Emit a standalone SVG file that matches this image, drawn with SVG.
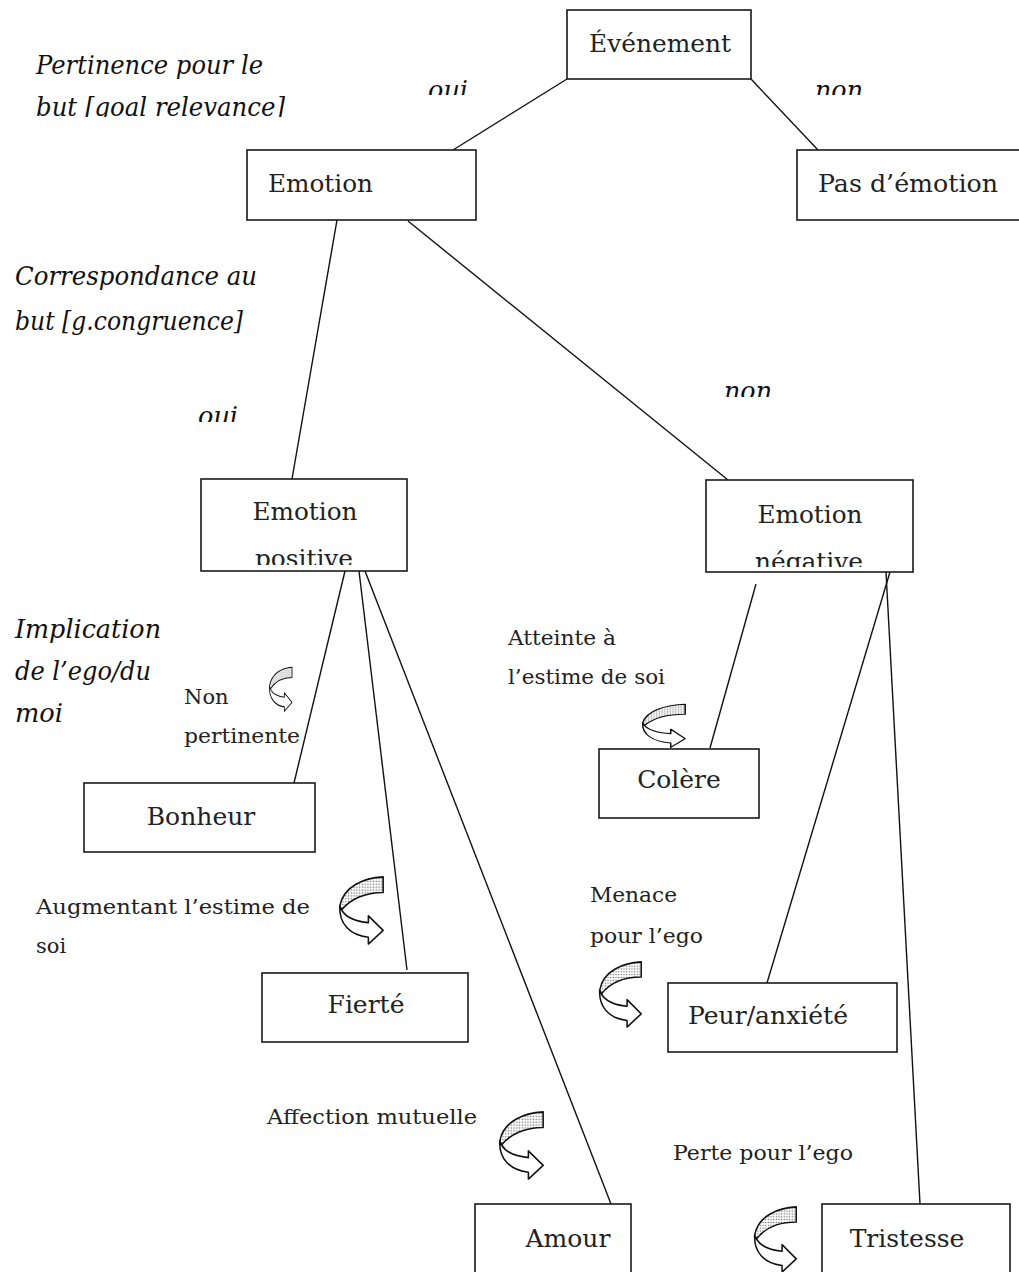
<svg xmlns="http://www.w3.org/2000/svg" xmlns:xlink="http://www.w3.org/1999/xlink" width="1019" height="1272" viewBox="0 0 1019 1272">
  <style>
    .box { fill: #fff; stroke: #1a1a1a; stroke-width: 1.6; }
    .node-text { font-family: "DejaVu Serif", "Liberation Serif", serif; font-size: 25px; fill: #222; }
    .crit { font-family: "DejaVu Serif", "Liberation Serif", serif; font-style: italic; font-size: 26px; fill: #111; }
    .small { font-family: "DejaVu Serif", "Liberation Serif", serif; font-size: 21px; fill: #222; }
    .edge { stroke: #111; stroke-width: 1.4; fill: none; }
    .ribbon-back { fill: url(#dots); stroke: #111; stroke-width: 1.7; stroke-linejoin: round; }
    .ribbon-front { fill: #fff; stroke: #111; stroke-width: 1.7; stroke-linejoin: round; }
  </style>
  <defs>
    <pattern id="dots" width="3" height="3" patternUnits="userSpaceOnUse">
      <rect width="3" height="3" fill="#fff"/>
      <circle cx="1.5" cy="1.5" r="0.8" fill="#666"/>
    </pattern>
    <!-- U-turn ribbon arrow: dotted back band on top, white band ending in a head -->
    <symbol id="uturn" viewBox="-2 -2 52 72" preserveAspectRatio="none">
      <path class="ribbon-back" d="M48,0 C28,1 5,9 1,30 L3,34 C12,23 28,16 48,16 Z"/>
      <path class="ribbon-front" d="M1,30 C0,48 12,60 32,62 L32,69 L48,55 L32,40 L32,47 C20,46 8,42 3,34 Z"/>
    </symbol>
    <clipPath id="clipOuiTop" clipPathUnits="userSpaceOnUse"><rect x="400" y="70" width="100" height="25"/></clipPath>
    <clipPath id="clipNonTop" clipPathUnits="userSpaceOnUse"><rect x="800" y="70" width="100" height="25"/></clipPath>
    <clipPath id="clipGoal" clipPathUnits="userSpaceOnUse"><rect x="0" y="80" width="320" height="37"/></clipPath>
    <clipPath id="clipOuiMid" clipPathUnits="userSpaceOnUse"><rect x="180" y="390" width="80" height="32"/></clipPath>
    <clipPath id="clipNonMid" clipPathUnits="userSpaceOnUse"><rect x="700" y="370" width="100" height="27"/></clipPath>
    <clipPath id="clipPos" clipPathUnits="userSpaceOnUse"><rect x="201" y="479" width="206" height="86"/></clipPath>
    <clipPath id="clipNeg" clipPathUnits="userSpaceOnUse"><rect x="706" y="480" width="207" height="87"/></clipPath>
  </defs>

  <rect width="1019" height="1272" fill="#fff"/>

  <!-- connectors -->
  <g id="connectors">
    <line class="edge" x1="567" y1="79" x2="453" y2="150"/>
    <line class="edge" x1="751" y1="79" x2="818" y2="150"/>
    <line class="edge" x1="337" y1="220" x2="292" y2="479"/>
    <line class="edge" x1="408" y1="221" x2="728" y2="480"/>
    <line class="edge" x1="345" y1="571" x2="294" y2="783"/>
    <line class="edge" x1="359" y1="571" x2="407" y2="970"/>
    <line class="edge" x1="365" y1="571" x2="611" y2="1204"/>
    <line class="edge" x1="756" y1="584" x2="710" y2="748"/>
    <line class="edge" x1="890" y1="572" x2="767" y2="983"/>
    <line class="edge" x1="886" y1="572" x2="920" y2="1204"/>
  </g>

  <!-- appraisal criteria -->
  <g id="criteria">
    <text class="crit" x="36" y="74" textLength="227" lengthAdjust="spacingAndGlyphs">Pertinence pour le</text>
    <text class="crit" x="36" y="116" textLength="249" lengthAdjust="spacingAndGlyphs" clip-path="url(#clipGoal)">but [goal relevance]</text>
    <text class="crit" x="15" y="285" textLength="242" lengthAdjust="spacingAndGlyphs">Correspondance au</text>
    <text class="crit" x="15" y="330" textLength="228" lengthAdjust="spacingAndGlyphs">but [g.congruence]</text>
    <text class="crit" x="15" y="638" textLength="146" lengthAdjust="spacingAndGlyphs">Implication</text>
    <text class="crit" x="15" y="680" textLength="136" lengthAdjust="spacingAndGlyphs">de l’ego/du</text>
    <text class="crit" x="15" y="722" textLength="48" lengthAdjust="spacingAndGlyphs">moi</text>
  </g>

  <!-- branch answers -->
  <g id="answers">
    <text class="crit" x="428" y="99" textLength="40" lengthAdjust="spacingAndGlyphs" clip-path="url(#clipOuiTop)">oui</text>
    <text class="crit" x="815" y="99" textLength="48" lengthAdjust="spacingAndGlyphs" clip-path="url(#clipNonTop)">non</text>
    <text class="crit" x="198" y="425" textLength="40" lengthAdjust="spacingAndGlyphs" clip-path="url(#clipOuiMid)">oui</text>
    <text class="crit" x="724" y="400" textLength="48" lengthAdjust="spacingAndGlyphs" clip-path="url(#clipNonMid)">non</text>
  </g>

  <!-- nodes -->
  <g id="evenement">
    <rect class="box" x="567" y="10" width="184" height="69"/>
    <text class="node-text" x="660" y="52" text-anchor="middle" textLength="142" lengthAdjust="spacingAndGlyphs">Événement</text>
  </g>
  <g id="emotion">
    <rect class="box" x="247" y="150" width="229" height="70"/>
    <text class="node-text" x="268" y="192" textLength="105" lengthAdjust="spacingAndGlyphs">Emotion</text>
  </g>
  <g id="pas-emotion">
    <rect class="box" x="797" y="150" width="230" height="70"/>
    <text class="node-text" x="818" y="192" textLength="180" lengthAdjust="spacingAndGlyphs">Pas d’émotion</text>
  </g>
  <g id="emotion-positive">
    <rect class="box" x="201" y="479" width="206" height="92"/>
    <g clip-path="url(#clipPos)">
      <text class="node-text" x="305" y="520" text-anchor="middle" textLength="105" lengthAdjust="spacingAndGlyphs">Emotion</text>
      <text class="node-text" x="304" y="567" text-anchor="middle" textLength="98" lengthAdjust="spacingAndGlyphs">positive</text>
    </g>
  </g>
  <g id="emotion-negative">
    <rect class="box" x="706" y="480" width="207" height="92"/>
    <g clip-path="url(#clipNeg)">
      <text class="node-text" x="810" y="523" text-anchor="middle" textLength="105" lengthAdjust="spacingAndGlyphs">Emotion</text>
      <text class="node-text" x="809" y="570" text-anchor="middle" textLength="108" lengthAdjust="spacingAndGlyphs">négative</text>
    </g>
  </g>
  <g id="bonheur">
    <rect class="box" x="84" y="783" width="231" height="69"/>
    <text class="node-text" x="201" y="825" text-anchor="middle">Bonheur</text>
  </g>
  <g id="colere">
    <rect class="box" x="599" y="749" width="160" height="69"/>
    <text class="node-text" x="679" y="788" text-anchor="middle">Colère</text>
  </g>
  <g id="fierte">
    <rect class="box" x="262" y="973" width="206" height="69"/>
    <text class="node-text" x="366" y="1013" text-anchor="middle">Fierté</text>
  </g>
  <g id="peur">
    <rect class="box" x="668" y="983" width="229" height="69"/>
    <text class="node-text" x="688" y="1024" textLength="160" lengthAdjust="spacingAndGlyphs">Peur/anxiété</text>
  </g>
  <g id="amour">
    <rect class="box" x="475" y="1204" width="156" height="80"/>
    <text class="node-text" x="568" y="1247" text-anchor="middle">Amour</text>
  </g>
  <g id="tristesse">
    <rect class="box" x="822" y="1204" width="188" height="80"/>
    <text class="node-text" x="907" y="1247" text-anchor="middle">Tristesse</text>
  </g>

  <!-- appraisal outcomes with their turn arrows -->
  <g id="label-non-pertinente">
    <text class="small" x="184" y="704">Non</text>
    <text class="small" x="184" y="743" textLength="116" lengthAdjust="spacingAndGlyphs">pertinente</text>
    <use xlink:href="#uturn" x="268" y="666" width="25" height="46"/>
  </g>
  <g id="label-atteinte">
    <text class="small" x="508" y="645" textLength="108" lengthAdjust="spacingAndGlyphs">Atteinte à</text>
    <text class="small" x="508" y="684" textLength="157" lengthAdjust="spacingAndGlyphs">l’estime de soi</text>
    <use xlink:href="#uturn" x="640" y="703" width="47" height="45"/>
  </g>
  <g id="label-augmentant">
    <text class="small" x="36" y="914" textLength="274" lengthAdjust="spacingAndGlyphs">Augmentant l’estime de</text>
    <text class="small" x="36" y="953">soi</text>
    <use xlink:href="#uturn" x="337" y="875" width="48" height="70"/>
  </g>
  <g id="label-menace">
    <text class="small" x="590" y="902" textLength="87" lengthAdjust="spacingAndGlyphs">Menace</text>
    <text class="small" x="590" y="943" textLength="113" lengthAdjust="spacingAndGlyphs">pour l’ego</text>
    <use xlink:href="#uturn" x="597" y="960" width="46" height="68"/>
  </g>
  <g id="label-affection">
    <text class="small" x="267" y="1124" textLength="210" lengthAdjust="spacingAndGlyphs">Affection mutuelle</text>
    <use xlink:href="#uturn" x="497" y="1110" width="48" height="70"/>
  </g>
  <g id="label-perte">
    <text class="small" x="673" y="1160" textLength="180" lengthAdjust="spacingAndGlyphs">Perte pour l’ego</text>
    <use xlink:href="#uturn" x="752" y="1205" width="46" height="68"/>
  </g>
</svg>
